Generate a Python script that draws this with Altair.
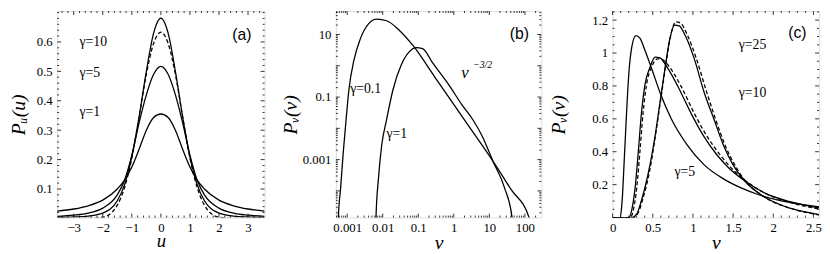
import altair as alt
import pandas as pd

SERIF = "Liberation Serif"
SANS = "Liberation Sans"

# ---------------- panel (a) ----------------
A_U = [-3.57, -3.0, -2.5, -2.0, -1.5, -1.25, -1.0, -0.75, -0.5, -0.25, 0.0,
       0.25, 0.5, 0.75, 1.0, 1.25, 1.5, 2.0, 2.5, 3.0, 3.57]
A_G1 = [0.025, 0.032, 0.043, 0.062, 0.100, 0.130, 0.175, 0.235, 0.300, 0.343, 0.355,
        0.343, 0.300, 0.235, 0.175, 0.130, 0.100, 0.062, 0.043, 0.032, 0.025]
A_G5 = [0.007, 0.011, 0.018, 0.035, 0.080, 0.130, 0.215, 0.325, 0.420, 0.490, 0.517,
        0.490, 0.420, 0.325, 0.215, 0.130, 0.080, 0.035, 0.018, 0.011, 0.007]
A_G10 = [0.003, 0.005, 0.008, 0.018, 0.060, 0.115, 0.210, 0.345, 0.500, 0.630, 0.681,
         0.630, 0.500, 0.345, 0.210, 0.115, 0.060, 0.018, 0.008, 0.005, 0.003]
A_DU = [-2.5, -2.0, -1.75, -1.5, -1.25, -1.0, -0.75, -0.5, -0.25, 0.0,
        0.25, 0.5, 0.75, 1.0, 1.25, 1.5, 1.75, 2.0, 2.5]
A_DASH = [0.0, 0.004, 0.015, 0.045, 0.105, 0.205, 0.345, 0.490, 0.595, 0.633,
          0.595, 0.490, 0.345, 0.205, 0.105, 0.045, 0.015, 0.004, 0.0]
A_XTICKS = [-3, -2, -1, 0, 1, 2, 3]
A_YTICKS = [0.1, 0.2, 0.3, 0.4, 0.5, 0.6]
A_XMINOR = [round(-3.4 + 0.2 * i, 1) for i in range(35) if round(-3.4 + 0.2 * i, 1) not in A_XTICKS]
A_YMINOR = [round(0.02 * i, 2) for i in range(1, 36) if round(0.02 * i, 2) not in A_YTICKS]
A_LAB_T = ["γ=10", "γ=5", "γ=1"]
A_LAB_X = [-2.80, -2.80, -2.80]
A_LAB_Y = [0.600, 0.494, 0.363]

# ---------------- panel (b) ----------------
B_G01_V = [5.47e-4, 5.64e-4, 6.53e-4, 7.76e-4, 9.33e-4, 1.12e-3, 1.55e-3, 2.34e-3, 3.98e-3,
           6.76e-3, 0.0129, 0.0295, 0.0708, 0.309, 1.70, 12.6, 40.7, 132, 150]
B_G01_P = [5e-6, 1.38e-5, 1.23e-4, 1.74e-3, 0.0195, 0.174, 1.51, 7.24, 21.9,
           30.9, 27.5, 13.5, 4.47, 0.398, 0.0240, 8.9e-4, 1.12e-4, 1.38e-5, 5e-6]
B_G1_V = [6.31e-3, 6.46e-3, 7.59e-3, 9.33e-3, 0.0129, 0.0195, 0.0331, 0.0562, 0.0871,
          0.132, 0.251, 0.724, 1.70, 3.55, 6.31, 12.6, 26.9, 43.7, 45.7]
B_G1_P = [5e-6, 1.38e-5, 2.51e-4, 2.82e-3, 0.0195, 0.174, 1.05, 2.82, 3.80,
          3.55, 1.26, 0.245, 0.0562, 0.0178, 5.62e-3, 8.9e-4, 1.23e-4, 1.38e-5, 5e-6]
B_XTICKS = [0.001, 0.01, 0.1, 1, 10, 100]
B_YLABELS = [10, 0.1, 0.001]
B_YTICKS = [1e-4, 1e-3, 1e-2, 1e-1, 1, 10]
B_XMINOR = [k * 10.0 ** e for e in range(-4, 3) for k in range(2, 10) if 4.8e-4 < k * 10.0 ** e < 290]
B_YMINOR = [k * 10.0 ** e for e in range(-5, 2) for k in range(2, 10) if 1.41e-5 < k * 10.0 ** e < 56]
B_LAB_T = ["γ=0.1", "γ=1"]
B_LAB_X = [1.21e-3, 0.0128]
B_LAB_Y = [0.181, 6.45e-3]

# ---------------- panel (c) ----------------
C_A_V = [0.0, 0.09, 0.11, 0.125, 0.14, 0.17, 0.20, 0.24, 0.29, 0.34, 0.40, 0.49, 0.59,
         0.73, 0.93, 1.14, 1.38, 1.60, 1.81, 2.22, 2.57]
C_A_P = [0.0, 0.0, 0.05, 0.15, 0.30, 0.60, 0.86, 1.04, 1.106, 1.09, 1.02, 0.90, 0.76,
         0.60, 0.44, 0.32, 0.235, 0.18, 0.14, 0.09, 0.065]
C_B_V = [0.0, 0.20, 0.24, 0.28, 0.32, 0.36, 0.40, 0.47, 0.53, 0.59, 0.67, 0.81, 0.98,
         1.14, 1.30, 1.45, 1.64, 1.89, 2.22, 2.57]
C_B_P = [0.0, 0.0, 0.05, 0.18, 0.40, 0.64, 0.80, 0.92, 0.975, 0.97, 0.92, 0.80, 0.63,
         0.49, 0.38, 0.30, 0.225, 0.15, 0.095, 0.058]
C_D_V = [0.0, 0.22, 0.26, 0.30, 0.34, 0.38, 0.42, 0.49, 0.56, 0.62, 0.70, 0.85, 1.02,
         1.18, 1.34, 1.48, 1.64, 1.89, 2.22, 2.57]
C_D_P = [0.0, 0.0, 0.05, 0.18, 0.40, 0.64, 0.80, 0.92, 0.965, 0.96, 0.92, 0.80, 0.63,
         0.49, 0.38, 0.30, 0.23, 0.15, 0.09, 0.052]
C_C_V = [0.0, 0.24, 0.30, 0.36, 0.44, 0.53, 0.59, 0.65, 0.71, 0.77, 0.83, 0.91, 1.02,
         1.14, 1.26, 1.38, 1.50, 1.64, 1.89, 2.22, 2.57]
C_C_P = [0.0, 0.0, 0.02, 0.105, 0.26, 0.50, 0.70, 0.90, 1.08, 1.17, 1.165, 1.10, 0.96,
         0.76, 0.60, 0.44, 0.32, 0.225, 0.125, 0.055, 0.018]
C_E_V = [0.0, 0.26, 0.32, 0.38, 0.46, 0.54, 0.60, 0.66, 0.72, 0.79, 0.85, 0.93, 1.04,
         1.16, 1.28, 1.40, 1.52, 1.64, 1.89, 2.22, 2.57]
C_E_P = [0.0, 0.0, 0.03, 0.12, 0.28, 0.52, 0.72, 0.92, 1.10, 1.19, 1.18, 1.11, 0.97,
         0.78, 0.60, 0.44, 0.32, 0.23, 0.125, 0.055, 0.016]
C_XTICKS = [0, 0.5, 1, 1.5, 2, 2.5]
C_YTICKS = [0.2, 0.4, 0.6, 0.8, 1.0, 1.2]
C_XMINOR = [round(0.1 * i, 1) for i in range(1, 26) if round(0.1 * i, 1) not in C_XTICKS]
C_YMINOR = [round(0.05 * i, 2) for i in range(1, 26) if round(0.05 * i, 2) not in C_YTICKS]
C_LAB_T = ["γ=25", "γ=10", "γ=5"]
C_LAB_X = [1.57, 1.57, 0.77]
C_LAB_Y = [1.048, 0.756, 0.278]

H = 210
WA, WB, WC = 211, 209, 210


def series_df(pairs):
    rows = []
    for name, xs, ys in pairs:
        for x, y in zip(xs, ys):
            rows.append({"x": x, "y": y, "s": name})
    return pd.DataFrame(rows)


def axis_x(values, title, title_y, title_size=20):
    return alt.Axis(values=values, ticks=False, domain=False, grid=False,
                    labelFont=SERIF, labelFontSize=13, labelColor="black", labelPadding=4,
                    labelOverlap=False, labelSeparation=0, labelBound=False, labelFlush=False,
                    labelExpr="format(datum.value, '~r')",
                    title=title, titleFont=SERIF, titleFontStyle="italic",
                    titleFontSize=title_size,
                    titleFontWeight="normal", titleColor="black",
                    titleY=title_y, titleBaseline="alphabetic")


def axis_y(values, title, title_x):
    return alt.Axis(values=values, ticks=False, domain=False, grid=False,
                    labelFont=SERIF, labelFontSize=13, labelColor="black", labelPadding=5,
                    labelOverlap=False, labelSeparation=0, labelBound=False, labelFlush=False,
                    labelExpr="format(datum.value, '~r')",
                    title=title, titleFont=SERIF, titleFontStyle="italic", titleFontSize=20,
                    titleFontWeight="normal", titleColor="black",
                    titleX=title_x, titleBaseline="middle")


def tick_layers(xs, ys, xax, yax, xmaj, xmin, ymaj, ymin, W):
    layers = []
    for vals, L in ((xmaj, 4), (xmin, 2)):
        d = pd.DataFrame({"t": vals})
        for y0, y1 in ((H, H - L), (0, L)):
            layers.append(alt.Chart(d).mark_rule(color="black", strokeWidth=0.8).encode(
                x=alt.X("t:Q", scale=xs, axis=xax), y=alt.value(y0), y2=alt.value(y1)))
    for vals, L in ((ymaj, 4), (ymin, 2)):
        d = pd.DataFrame({"t": vals})
        for x0, x1 in ((0, L), (W, W - L)):
            layers.append(alt.Chart(d).mark_rule(color="black", strokeWidth=0.8).encode(
                y=alt.Y("t:Q", scale=ys, axis=yax), x=alt.value(x0), x2=alt.value(x1)))
    return layers


def text_layer(xs_, ys_, xax, yax, tx, xv, yv, font, size, style="normal", align="left"):
    d = pd.DataFrame({"x": xv, "y": yv, "t": tx})
    return alt.Chart(d).mark_text(align=align, baseline="middle", font=font, fontSize=size,
                                  fontStyle=style, color="black").encode(
        x=alt.X("x:Q", scale=xs_, axis=xax), y=alt.Y("y:Q", scale=ys_, axis=yax), text="t:N")


def build(solid, dashed, xs, ys, xax, yax, ticks, texts, W):
    main = alt.Chart(series_df(solid)).mark_line(
        color="black", strokeWidth=1.3, interpolate="monotone", clip=True).encode(
        x=alt.X("x:Q", scale=xs, axis=xax), y=alt.Y("y:Q", scale=ys, axis=yax),
        detail="s:N", order="x:Q")
    layers = [main]
    if dashed:
        layers.append(alt.Chart(series_df(dashed)).mark_line(
            color="black", strokeWidth=1.3, strokeDash=[4, 2.5], interpolate="monotone",
            clip=True).encode(x=alt.X("x:Q", scale=xs, axis=xax),
                              y=alt.Y("y:Q", scale=ys, axis=yax), detail="s:N", order="x:Q"))
    layers += ticks + texts
    return alt.layer(*layers).properties(width=W, height=H)


# panel (a)
xs_a = alt.Scale(domain=[-3.57, 3.57], nice=False, zero=False)
ys_a = alt.Scale(domain=[0.003, 0.705], nice=False, zero=False)
xax_a = axis_x(A_XTICKS, "u", 29, 19)
yax_a = axis_y(A_YTICKS, "Pᵤ(u)", -39)
pa = build([("g1", A_U, A_G1), ("g5", A_U, A_G5), ("g10", A_U, A_G10)],
           [("d", A_DU, A_DASH)], xs_a, ys_a, xax_a, yax_a,
           tick_layers(xs_a, ys_a, xax_a, yax_a, A_XTICKS, A_XMINOR, A_YTICKS, A_YMINOR, WA),
           [text_layer(xs_a, ys_a, xax_a, yax_a, A_LAB_T, A_LAB_X, A_LAB_Y, SERIF, 14),
            text_layer(xs_a, ys_a, xax_a, yax_a, ["(a)"], [2.79], [0.624], SANS, 16,
                       align="center")], WA)

# panel (b)
xs_b = alt.Scale(type="log", domain=[4.8e-4, 290], nice=False)
ys_b = alt.Scale(type="log", domain=[1.41e-5, 56], nice=False)
xax_b = axis_x(B_XTICKS, "v", 32)
yax_b = axis_y(B_YLABELS, "Pᵥ(v)", -46)
pb = build([("g01", B_G01_V, B_G01_P), ("g1", B_G1_V, B_G1_P)], None, xs_b, ys_b,
           xax_b, yax_b,
           tick_layers(xs_b, ys_b, xax_b, yax_b, B_XTICKS, B_XMINOR, B_YTICKS, B_YMINOR, WB),
           [text_layer(xs_b, ys_b, xax_b, yax_b, B_LAB_T, B_LAB_X, B_LAB_Y, SERIF, 14),
            text_layer(xs_b, ys_b, xax_b, yax_b, ["v"], [1.62], [0.578], SERIF, 17,
                       style="italic"),
            text_layer(xs_b, ys_b, xax_b, yax_b, ["−3/2"], [3.48], [1.03], SERIF, 10,
                       style="italic"),
            text_layer(xs_b, ys_b, xax_b, yax_b, ["(b)"], [69.5], [10.5], SANS, 16,
                       align="center")], WB)

# panel (c)
xs_c = alt.Scale(domain=[0, 2.57], nice=False, zero=False)
ys_c = alt.Scale(domain=[0, 1.255], nice=False, zero=False)
xax_c = axis_x(C_XTICKS, "v", 32)
yax_c = axis_y(C_YTICKS, "Pᵥ(v)", -55)
pc = build([("A", C_A_V, C_A_P), ("B", C_B_V, C_B_P), ("C", C_C_V, C_C_P)],
           [("D", C_D_V, C_D_P), ("E", C_E_V, C_E_P)], xs_c, ys_c, xax_c, yax_c,
           tick_layers(xs_c, ys_c, xax_c, yax_c, C_XTICKS, C_XMINOR, C_YTICKS, C_YMINOR, WC),
           [text_layer(xs_c, ys_c, xax_c, yax_c, C_LAB_T, C_LAB_X, C_LAB_Y, SERIF, 14),
            text_layer(xs_c, ys_c, xax_c, yax_c, ["(c)"], [2.30], [1.12], SANS, 16,
                       align="center")], WC)

chart = alt.hconcat(pa, pb, pc, spacing=72.5, bounds="flush").properties(
    padding={"left": 0, "top": 0, "right": 0, "bottom": 0}
).configure_view(stroke="black", strokeWidth=1).configure_axis(
    labelOverlap=False
).configure(background="white")

chart.save("out.html", embed_options={"renderer": "svg", "actions": False})
